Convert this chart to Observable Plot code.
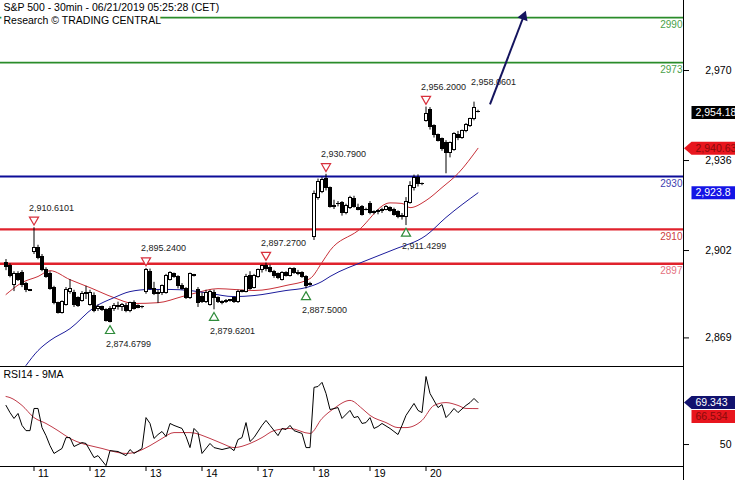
<!DOCTYPE html>
<html><head><meta charset="utf-8">
<script src="https://cdn.jsdelivr.net/npm/d3@7"></script>
<script src="https://cdn.jsdelivr.net/npm/@observablehq/plot@0.6"></script>
<style>
html,body{margin:0;padding:0;background:#fff;}
#chart{position:relative;width:735px;height:480px;overflow:hidden;background:#fff;}
#chart svg{display:block;}
</style></head><body><div id="chart"></div>
<script>
// ---------- data ----------
const titleLines = ["S&P 500 - 30min - 06/21/2019 05:25:28 (CET)", "Research \u00a9 TRADING CENTRAL"];
const rsiTitle = "RSI14 - 9MA";

const opens = [2897.4,2896.3,2888.8,2893.3,2893.7,2889.5,2887.0,2901.5,2903.0,2899.5,
 2894.5,2893.0,2888.0,2882.0,2878.5,2881.5,2886.5,2886.0,2884.0,2883.0,
 2885.5,2881.5,2885.0,2880.0,2880.5,2879.5,2880.0,2880.0,2881.0,2880.5,
 2881.0,2879.0,2882.0,2881.0,2880.5,2886.5,2894.0,2887.5,2885.5,2886.0,
 2886.0,2891.0,2893.0,2892.0,2888.5,2887.5,2884.0,2892.5,2887.0,2884.5,
 2882.5,2881.5,2886.0,2884.0,2882.5,2882.5,2883.0,2884.0,2882.5,2886.5,
 2886.5,2892.5,2888.0,2892.0,2894.5,2896.0,2895.5,2894.0,2893.0,2891.0,
 2893.5,2892.5,2895.0,2893.5,2893.5,2892.0,2889.0,2907.0,2922.0,2924.0,
 2929.0,2925.5,2918.5,2919.5,2920.0,2916.0,2918.0,2921.5,2918.0,2918.5,
 2917.5,2919.5,2916.5,2916.5,2917.0,2917.5,2918.0,2917.5,2916.5,2914.5,
 2914.5,2920.0,2925.5,2929.5,2927.0,2951.0,2955.0,2949.0,2945.5,2944.0,
 2942.5,2939.0,2940.0,2945.5,2944.5,2947.0,2949.0,2951.5,2954.5];
const highs = [2898.6,2897.0,2894.0,2894.0,2894.4,2890.0,2887.3,2910.61,2904.0,2900.5,
 2895.5,2894.0,2888.5,2882.5,2883.0,2888.0,2891.0,2887.0,2884.5,2886.5,
 2888.5,2887.0,2886.0,2881.5,2881.0,2880.0,2880.8,2882.0,2882.5,2882.0,
 2882.0,2882.5,2883.0,2881.5,2881.0,2895.24,2895.0,2890.0,2887.0,2889.0,
 2893.0,2894.0,2893.5,2892.5,2889.5,2888.0,2893.5,2893.0,2888.0,2886.0,
 2887.0,2887.0,2887.0,2884.5,2883.0,2883.5,2883.5,2884.5,2887.0,2887.0,
 2893.0,2894.0,2893.0,2895.0,2896.5,2897.27,2896.5,2894.5,2893.5,2894.0,
 2894.0,2895.5,2895.5,2894.5,2894.0,2892.5,2890.0,2924.5,2929.0,2929.5,
 2930.79,2926.0,2921.0,2920.5,2920.5,2919.5,2922.5,2922.5,2919.5,2919.0,
 2918.0,2920.5,2917.0,2917.5,2918.0,2919.0,2918.5,2918.0,2917.0,2916.0,
 2922.0,2928.0,2930.5,2930.6,2927.5,2956.2,2956.0,2949.5,2946.0,2944.5,
 2943.5,2943.0,2946.5,2947.0,2947.5,2950.0,2952.0,2958.06,2955.0];
const lows = [2894.4,2891.7,2886.5,2890.3,2888.0,2886.1,2886.5,2900.5,2898.5,2894.0,
 2891.5,2887.0,2881.5,2878.0,2878.0,2881.0,2885.5,2880.5,2880.5,2882.5,
 2883.5,2881.0,2878.5,2879.0,2879.0,2875.0,2874.68,2879.0,2879.5,2879.0,
 2878.5,2878.5,2879.5,2880.0,2880.0,2885.5,2887.0,2885.0,2882.0,2885.0,
 2885.5,2890.5,2891.5,2887.5,2887.0,2883.5,2883.5,2892.0,2880.5,2882.0,
 2882.0,2881.0,2879.62,2882.0,2881.5,2882.0,2882.5,2882.0,2882.0,2886.0,
 2886.0,2887.0,2887.5,2891.5,2893.5,2894.0,2893.5,2891.5,2891.0,2890.5,
 2892.0,2892.0,2893.0,2892.5,2891.5,2887.5,2888.5,2905.8,2921.0,2923.5,
 2924.5,2918.0,2917.5,2918.5,2915.0,2915.5,2917.5,2918.0,2917.0,2915.0,
 2917.0,2915.5,2915.5,2915.5,2916.0,2917.0,2916.5,2915.0,2914.0,2913.5,
 2911.43,2919.5,2924.5,2926.0,2926.5,2950.5,2947.5,2944.5,2943.0,2939.5,
 2931.0,2937.0,2939.5,2943.5,2944.0,2946.5,2948.5,2951.0,2954.0];
const closes = [2895.9,2892.5,2893.3,2890.7,2888.8,2887.0,2886.9,2903.0,2899.0,2894.5,
 2892.0,2887.5,2882.0,2878.5,2882.5,2887.0,2887.5,2881.5,2881.2,2885.5,
 2885.8,2886.0,2879.0,2880.5,2879.5,2875.5,2875.0,2881.0,2880.5,2881.5,
 2879.0,2882.0,2880.0,2880.2,2880.5,2894.5,2887.5,2885.5,2886.0,2888.5,
 2892.5,2893.5,2892.0,2888.5,2887.5,2884.0,2893.0,2892.5,2882.0,2882.5,
 2886.0,2886.5,2884.0,2882.5,2882.0,2883.0,2883.2,2882.5,2886.5,2886.8,
 2892.0,2887.5,2892.5,2894.5,2896.0,2895.0,2894.0,2892.5,2891.5,2893.5,
 2892.5,2895.0,2893.5,2893.0,2892.0,2888.5,2889.5,2923.5,2928.0,2928.5,
 2925.5,2918.5,2919.0,2919.5,2916.0,2919.0,2922.0,2918.5,2917.5,2915.5,
 2917.2,2916.0,2916.3,2917.0,2917.5,2918.5,2917.0,2915.5,2914.5,2915.0,
 2920.5,2926.5,2929.5,2927.0,2927.0,2953.5,2948.5,2945.5,2943.5,2940.5,
 2939.0,2942.5,2946.0,2944.5,2947.0,2949.5,2951.5,2956.0,2954.18];

// moving averages on price (bar index, value)
const redMaIdx = [0,4,8,11,16,21,27,32,38,44,47,53,57,62,70,76,79,81,88,96,99,101,105,109,113,118];
const redMaVal = [2885.4,2889.9,2892.2,2894.4,2891.0,2888.0,2884.2,2882.0,2882.3,2884.6,2885.8,2887.6,2887.3,2886.9,2888.8,2891.4,2897.5,2902.0,2909.5,2920.0,2919.8,2918.2,2920.9,2925.8,2931.1,2940.63];
const blueMaIdx = [5,8,11,16,22,27,31,36,41,46,51,57,62,70,75,79,81,90,97,105,110,118];
const blueMaVal = [2858.6,2864.2,2868.0,2872.5,2880.5,2884.2,2886.5,2887.3,2887.3,2886.9,2885.8,2884.6,2885.0,2886.9,2888.0,2890.3,2892.2,2898.2,2902.4,2907.7,2914.5,2923.8];

// RSI and its MA
const rsiIdx = [0,1,2,3,4,5,6,7,8,9,10,11,12,14,15,16,17,19,20,22,23,25,26,28,30,31,32,34,35,36,37,38,39,40,41,42,44,45,46,47,48,49,51,52,54,56,57,58,59,60,61,62,64,65,66,68,69,70,71,72,74,75,76,77,78,79,80,81,83,84,86,87,88,89,90,91,92,93,94,96,98,99,100,102,103,104,105,106,108,109,110,111,112,113,115,116,117,118];
const rsiVal = [68.0,64.7,62.0,64.3,58.8,56.4,56.4,66.6,66.6,57.8,54.1,49.5,45.9,48.2,53.2,53.2,49.1,50.9,50.5,44.0,44.9,40.3,47.2,46.8,44.9,47.7,45.9,48.2,62.4,59.7,52.8,54.6,56.0,53.7,59.7,58.8,57.4,53.7,48.6,57.4,55.5,45.9,50.5,48.6,47.7,48.6,47.2,52.3,53.2,60.1,51.4,53.2,58.8,61.1,58.8,54.1,57.4,56.9,58.8,56.4,55.1,48.6,48.6,76.3,76.7,78.6,73.5,66.1,67.0,62.0,65.7,62.4,62.9,59.7,60.1,62.4,57.4,58.3,59.7,57.4,54.6,58.8,63.4,68.9,65.7,64.7,81.3,73.5,67.0,68.4,62.4,64.3,66.6,64.7,68.0,69.3,71.2,69.343];
const rsiMaIdx = [0,1,4,7,10,13,16,19,21,24,26,30,32,36,39,42,46,51,54,57,61,64,67,71,76,79,82,86,89,91,95,98,100,104,107,110,113,115,118];
const rsiMaVal = [72.1,71.6,68.0,62.4,59.7,56.4,52.8,50.5,49.5,48.2,47.2,45.9,46.3,49.5,52.8,55.5,55.5,52.8,50.5,48.6,50.5,53.2,56.4,57.4,55.1,62.0,66.6,70.3,66.6,63.4,60.1,57.8,57.8,61.1,68.0,69.3,68.0,66.6,66.534];

// swing annotations
const swingHighIdx = [7,35,65,80,105];
const swingHighVal = [2910.6101,2895.24,2897.27,2930.79,2956.20];
const swingLowIdx = [26,52,75,100];
const swingLowVal = [2874.6799,2879.6201,2887.50,2911.4299];
const lastHighIdx = [117];
const lastHighVal = [2958.0601];

// support / resistance levels
const levelValues = [2990, 2973, 2930, 2910, 2897];
const levelColors = ["#2a8c2a","#2a8c2a","#0c0c98","#e0222c","#e0222c"];
const levelLabelColors = ["#4a9f4a","#4a9f4a","#4040b0","#cc4044","#e47080"];
const levelWidths = [1.6,1.6,2,2.4,2.4];

// trend arrow (bar index, price)
const arrowIdx = [121, 129.4];
const arrowVal = [2957.2, 2990.4];

// axes
const priceTicks = [2869, 2902, 2936, 2970];
const rsiTicks = [50];
const dayIdx = [7,21,35,49,63,77,91,105];
const dayLabels = ["11","12","13","14","17","18","19","20"];

// ---------- build ----------
const candles = opens.map((o, i) => ({i, o, h: highs[i], l: lows[i], c: closes[i]}));
const redMa = redMaIdx.map((i, k) => ({i, v: redMaVal[k]}));
const blueMa = blueMaIdx.map((i, k) => ({i, v: blueMaVal[k]}));
const rsi = rsiIdx.map((i, k) => ({i, v: rsiVal[k]}));
const rsiMa = rsiMaIdx.map((i, k) => ({i, v: rsiMaVal[k]}));
const sHigh = swingHighIdx.map((i, k) => ({i, v: swingHighVal[k]}));
const sLow = swingLowIdx.map((i, k) => ({i, v: swingLowVal[k]}));
const lHigh = lastHighIdx.map((i, k) => ({i, v: lastHighVal[k]}));
const levels = levelValues.map((v, k) => ({v, color: levelColors[k], label: levelLabelColors[k], w: levelWidths[k]}));

const xDomain = [-1.375, 169.375];
const priceDomain = [2858.2, 2996.45];
const rsiDomain = [39.9, 85.9];
const FONT = "Liberation Sans, Arial, sans-serif";
const PW = 683, PH = 366;

const pxPerX = PW / (xDomain[1] - xDomain[0]);
const pxPerY = PH / (priceDomain[1] - priceDomain[0]);
const arrowAngle = Math.atan2((arrowIdx[1]-arrowIdx[0]) * pxPerX, (arrowVal[1]-arrowVal[0]) * pxPerY) * 180 / Math.PI;

const boxSym = {draw(ctx) { ctx.moveTo(8,-6.5); ctx.lineTo(60,-6.5); ctx.lineTo(60,6.5); ctx.lineTo(8,6.5); ctx.closePath(); }};
const ptrSym = {draw(ctx) { ctx.moveTo(0.5,0); ctx.lineTo(8,-6.5); ctx.lineTo(60,-6.5); ctx.lineTo(60,6.5); ctx.lineTo(8,6.5); ctx.closePath(); }};

const lastClose = closes[closes.length-1];
const lastRed = redMaVal[redMaVal.length-1];
const lastBlue = blueMaVal[blueMaVal.length-1];
const lastRsi = rsiVal[rsiVal.length-1];
const lastRsiMa = rsiMaVal[rsiMaVal.length-1];

const isUp = d => d.c >= d.o;

const price = Plot.plot({
  width: 735, height: PH,
  marginLeft: 0, marginRight: 52, marginTop: 0, marginBottom: 0,
  style: {fontFamily: FONT, fontSize: "10px", background: "white", color: "black"},
  x: {domain: xDomain, axis: null},
  y: {domain: priceDomain, axis: null},
  color: {type: "identity"},
  marks: [
    Plot.ruleY(levels, {y: "v", stroke: "color", strokeWidth: d => d.w}),
    Plot.line(redMa, {x: "i", y: "v", stroke: "#c83038", strokeWidth: 1, curve: "monotone-x"}),
    Plot.line(blueMa, {x: "i", y: "v", stroke: "#1c1c9c", strokeWidth: 1, curve: "monotone-x"}),
    Plot.ruleX(candles, {x: "i", y1: "l", y2: "h", stroke: "black", strokeWidth: 1}),
    Plot.rect(candles, {x1: d => d.i - 0.375, x2: d => d.i + 0.375, y1: "o",
      y2: d => d.c === d.o ? d.c + 0.25 : d.c,
      fill: d => isUp(d) ? "white" : "black", stroke: "black", strokeWidth: 1, shapeRendering: "crispEdges"}),
    Plot.dot(sHigh, {x: "i", y: "v", dy: -8, symbol: "triangle", rotate: 180, r: 3.4, fill: "white", stroke: "#d8303c", strokeWidth: 1.2}),
    Plot.dot(sLow, {x: "i", y: "v", dy: 8, symbol: "triangle", r: 3.4, fill: "white", stroke: "#2e8b3a", strokeWidth: 1.2}),
    Plot.text(sHigh, {x: "i", y: "v", text: d => d3.format(",.4f")(d.v), dy: -20, dx: -5, textAnchor: "start", fontSize: 9, fill: "#222"}),
    Plot.text(lHigh, {x: "i", y: "v", text: d => d3.format(",.4f")(d.v), dy: -20, dx: -3, textAnchor: "start", fontSize: 9, fill: "#222"}),
    Plot.text(sLow, {x: "i", y: "v", text: d => d3.format(",.4f")(d.v), dy: 21, dx: -4, textAnchor: "start", fontSize: 9, fill: "#222"}),
    Plot.link([0], {x1: () => arrowIdx[0], y1: () => arrowVal[0], x2: () => arrowIdx[1], y2: () => arrowVal[1], stroke: "#14145e", strokeWidth: 2}),
    Plot.dot([0], {x: () => arrowIdx[1], y: () => arrowVal[1], symbol: "triangle", rotate: arrowAngle, r: 4, fill: "#14145e"}),
    Plot.text(levels, {y: "v", text: d => String(d.v), frameAnchor: "right", dx: -1, dy: 7, textAnchor: "end", fill: "label", fontSize: 10}),
    Plot.text([titleLines.join("\n")], {frameAnchor: "top-left", dx: 3, dy: 1, textAnchor: "start", lineAnchor: "top",
      fontSize: 10.5, lineHeight: 1.24, fill: "black", stroke: "white", strokeWidth: 6, paintOrder: "stroke", strokeLinejoin: "round"}),
    Plot.ruleX([xDomain[1]], {stroke: "black"}),
    Plot.axisY({anchor: "right", label: null, ticks: priceTicks, tickFormat: d3.format(","), tickSize: 5, tickPadding: 43, textAnchor: "end", fontSize: 10.5}),
    Plot.dot([lastClose], {y: d => d, frameAnchor: "right", symbol: boxSym, fill: "black"}),
    Plot.text([lastClose], {y: d => d, text: d => d3.format(",.2f")(d), frameAnchor: "right", dx: 12, textAnchor: "start", fill: "white", fontSize: 10.5}),
    Plot.dot([lastRed], {y: d => d, frameAnchor: "right", symbol: ptrSym, fill: "#e8161e"}),
    Plot.text([lastRed], {y: d => d, text: d => d3.format(",.2f")(d), frameAnchor: "right", dx: 12, textAnchor: "start", fill: "#8a0a0a", fontSize: 10.5}),
    Plot.dot([lastBlue], {y: d => d, frameAnchor: "right", symbol: boxSym, fill: "#1414e6"}),
    Plot.text([lastBlue], {y: d => d, text: d => d3.format(",.1f")(d), frameAnchor: "right", dx: 12, textAnchor: "start", fill: "white", fontSize: 10.5})
  ]
});

const rsiPlot = Plot.plot({
  width: 735, height: 114,
  marginLeft: 0, marginRight: 52, marginTop: 0, marginBottom: 14,
  style: {fontFamily: FONT, fontSize: "10px", background: "white", color: "black"},
  x: {domain: xDomain, axis: null},
  y: {domain: rsiDomain, axis: null},
  color: {type: "identity"},
  marks: [
    Plot.ruleY(rsiDomain, {stroke: "black"}),
    Plot.ruleX([xDomain[1]], {stroke: "black", insetBottom: -14}),
    Plot.line(rsiMa, {x: "i", y: "v", stroke: "#c03a48", strokeWidth: 1, curve: "monotone-x"}),
    Plot.line(rsi, {x: "i", y: "v", stroke: "black", strokeWidth: 1}),
    Plot.text([rsiTitle], {frameAnchor: "top-left", dx: 3, dy: 4, textAnchor: "start", lineAnchor: "top", fontSize: 10.5, fill: "black"}),
    Plot.axisX({ticks: dayIdx, label: null, tickSize: 5, tickFormat: () => "", anchor: "bottom"}),
    Plot.text(dayIdx, {x: d => d, text: d => dayLabels[dayIdx.indexOf(d)], frameAnchor: "bottom", dy: 3, dx: 4, textAnchor: "start", lineAnchor: "top", fontSize: 10.5, fill: "black"}),
    Plot.axisY({anchor: "right", label: null, ticks: rsiTicks, tickSize: 5, tickPadding: 43, textAnchor: "end", fontSize: 10.5}),
    Plot.dot([lastRsiMa], {y: d => d, frameAnchor: "right", dy: 8, symbol: boxSym, fill: "#e8161e"}),
    Plot.text([lastRsiMa], {y: d => d, text: d => d3.format(".3f")(d), frameAnchor: "right", dy: 8, dx: 12, textAnchor: "start", fill: "#8a0a0a", fontSize: 10.5}),
    Plot.dot([lastRsi], {y: d => d, frameAnchor: "right", symbol: ptrSym, fill: "#12126e"}),
    Plot.text([lastRsi], {y: d => d, text: d => d3.format(".3f")(d), frameAnchor: "right", dx: 12, textAnchor: "start", fill: "white", fontSize: 10.5})
  ]
});

const root = document.getElementById("chart");
root.appendChild(price);
root.appendChild(rsiPlot);
</script>
</body></html>
